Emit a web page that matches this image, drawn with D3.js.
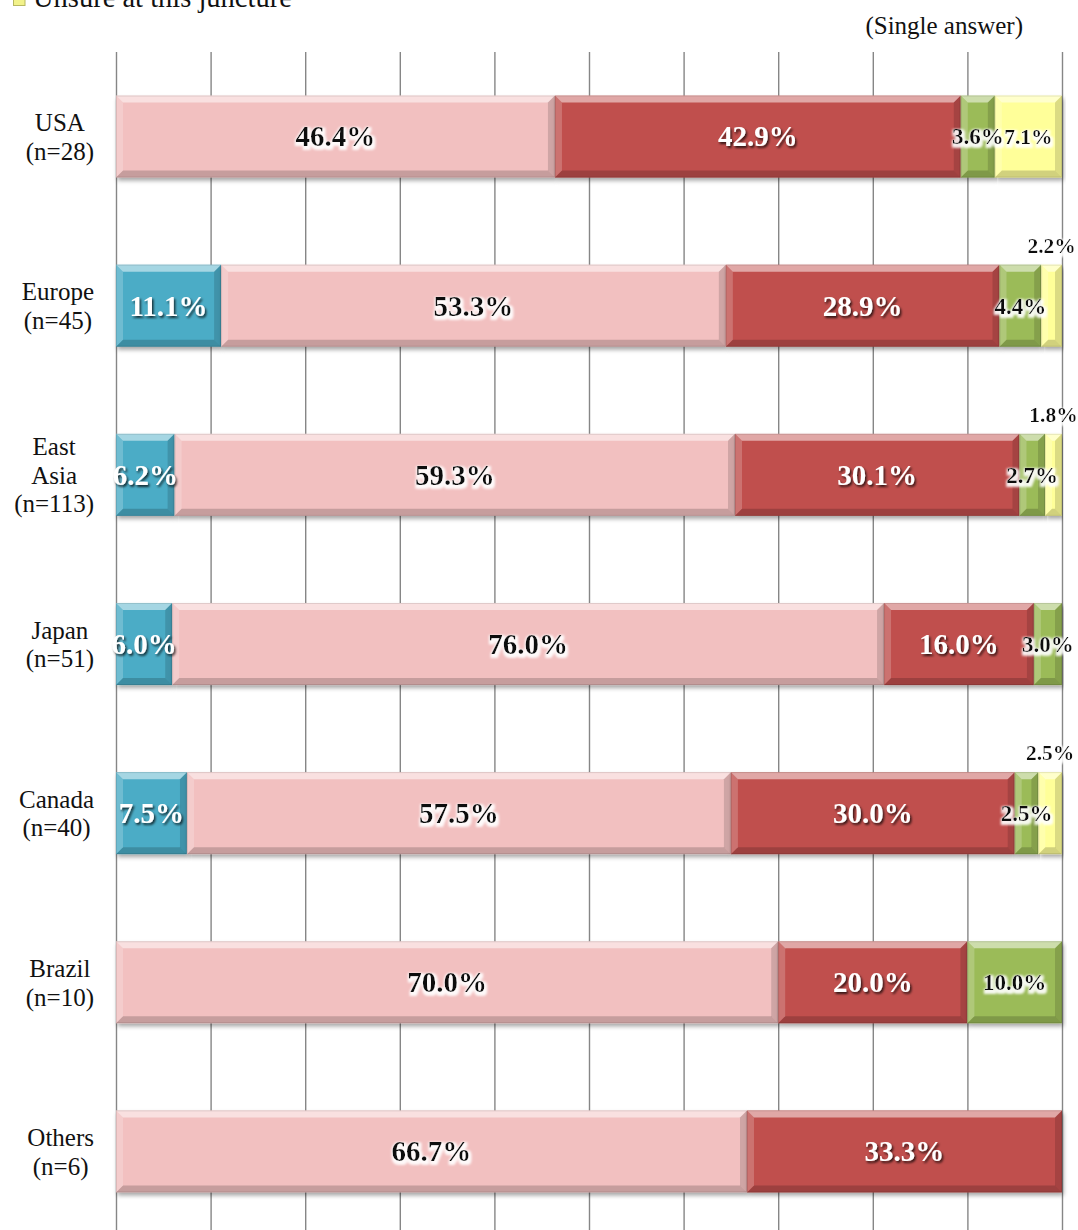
<!DOCTYPE html>
<html>
<head>
<meta charset="utf-8">
<script src="https://cdn.jsdelivr.net/npm/d3@7"></script>
<style>
  html, body { margin: 0; padding: 0; background: #fff; }
  svg { display: block; }
</style>
</head>
<body>
<svg id="chart" width="1078" height="1230"></svg>
<script>
// Regions surveyed (each label line is drawn on its own row)
const categories = ["USA", "Europe", "East Asia", "Japan", "Canada", "Brazil", "Others"];
const categoryLines = [
  ["USA", "(n=28)"],
  ["Europe", "(n=45)"],
  ["East", "Asia", "(n=113)"],
  ["Japan", "(n=51)"],
  ["Canada", "(n=40)"],
  ["Brazil", "(n=10)"],
  ["Others", "(n=6)"]
];

// Answer shares (%) per region, one array per answer option, in stacking order
const answer1 = [0, 11.1, 6.2, 6.0, 7.5, 0, 0];
const answer2 = [46.4, 53.3, 59.3, 76.0, 57.5, 70.0, 66.7];
const answer3 = [42.9, 28.9, 30.1, 16.0, 30.0, 20.0, 33.3];
const answer4 = [3.6, 4.4, 2.7, 3.0, 2.5, 10.0, 0];
const unsure  = [7.1, 2.2, 1.8, 0, 2.5, 0, 0];

const seriesValues = [answer1, answer2, answer3, answer4, unsure];
const seriesColors = ["#4bacc6", "#f2c0c0", "#c0504d", "#9bbb59", "#ffff99"];
const legendLabel = "Unsure at this juncture";
const noteLabel = "(Single answer)";
const gridTicks = [0, 0.1, 0.2, 0.3, 0.4, 0.5, 0.6, 0.7, 0.8, 0.9, 1.0];

const svg = d3.select("#chart");
const serif = "'Liberation Serif', 'Times New Roman', serif";

const plot = { left: 116, right: 1062, top: 52, bottom: 1236 };

const x = d3.scaleLinear().domain([0, 1]).range([plot.left, plot.right]);
const y = d3.scaleBand().domain(categories).range([plot.top, plot.bottom])
  .paddingInner(0.515).paddingOuter(0.2575);

// Filters: bar shadow, dark text shadow, white glow
const defs = svg.append("defs");
const fBar = defs.append("filter").attr("id", "barShadow")
  .attr("x", "-5%").attr("y", "-20%").attr("width", "110%").attr("height", "150%");
fBar.append("feDropShadow").attr("dx", 1.5).attr("dy", 3).attr("stdDeviation", 2.2)
  .attr("flood-color", "#000").attr("flood-opacity", 0.35);

const fDark = defs.append("filter").attr("id", "darkText")
  .attr("x", "-20%").attr("y", "-40%").attr("width", "140%").attr("height", "180%");
fDark.append("feDropShadow").attr("dx", 1.5).attr("dy", 2).attr("stdDeviation", 0.9)
  .attr("flood-color", "#000").attr("flood-opacity", 0.75);

const fGlow = defs.append("filter").attr("id", "glowText")
  .attr("x", "-20%").attr("y", "-40%").attr("width", "140%").attr("height", "180%");
fGlow.append("feMorphology").attr("in", "SourceAlpha").attr("operator", "dilate").attr("radius", 1.6).attr("result", "d");
fGlow.append("feOffset").attr("in", "d").attr("dx", 1).attr("dy", 1.5).attr("result", "o");
fGlow.append("feGaussianBlur").attr("in", "o").attr("stdDeviation", 1.2).attr("result", "b");
fGlow.append("feFlood").attr("flood-color", "#fff").attr("flood-opacity", 0.9).attr("result", "w");
fGlow.append("feComposite").attr("in", "w").attr("in2", "b").attr("operator", "in").attr("result", "g");
const gm = fGlow.append("feMerge");
gm.append("feMergeNode").attr("in", "g");
gm.append("feMergeNode").attr("in", "SourceGraphic");

// Vertical gridlines from the percentage axis
const gridAxis = d3.axisBottom(x).tickValues(gridTicks).tickSize(-(plot.bottom - plot.top)).tickFormat("");
const grid = svg.append("g").attr("transform", `translate(0,${plot.bottom})`).call(gridAxis);
grid.select(".domain").remove();
grid.selectAll(".tick line").attr("stroke", "#868686").attr("stroke-width", 1.4);

// Stack rows, normalised to 100%
const rows = categories.map((c, i) => {
  const vals = seriesValues.map(s => s[i]);
  const total = d3.sum(vals);
  let cum = 0;
  return vals.map((v, k) => {
    const seg = { cat: c, k, v, x0: cum / total, x1: (cum + v) / total };
    cum += v;
    return seg;
  });
});
const segments = rows.flat().filter(d => d.v > 0);

const bw = y.bandwidth();
const bev = 7;

const bars = svg.append("g");
const segG = bars.selectAll("g.seg").data(segments).join("g").attr("class", "seg");

segG.each(function(d) {
  const g = d3.select(this);
  const x0 = x(d.x0), x1 = x(d.x1), y0 = y(d.cat), y1 = y0 + bw;
  const b = Math.min(bev, (x1 - x0) / 2);
  g.append("rect").attr("x", x0).attr("y", y0).attr("width", x1 - x0).attr("height", bw)
    .attr("fill", seriesColors[d.k]).attr("filter", "url(#barShadow)");
  // bevel facets
  const facets = [
    { p: [[x0, y0], [x1, y0], [x1 - b, y0 + b], [x0 + b, y0 + b]], c: "#fff", o: 0.5 },
    { p: [[x0, y0], [x0 + b, y0 + b], [x0 + b, y1 - b], [x0, y1]], c: "#fff", o: 0.2 },
    { p: [[x0, y1], [x0 + b, y1 - b], [x1 - b, y1 - b], [x1, y1]], c: "#000", o: 0.18 },
    { p: [[x1, y0], [x1, y1], [x1 - b, y1 - b], [x1 - b, y0 + b]], c: "#000", o: 0.14 }
  ];
  facets.forEach(f => {
    g.append("polygon").attr("points", f.p.map(q => q.join(",")).join(" "))
      .attr("fill", f.c).attr("fill-opacity", f.o);
  });
  g.append("rect").attr("x", x0 + 0.5).attr("y", y0 + 0.5).attr("width", x1 - x0 - 1).attr("height", bw - 1)
    .attr("fill", "none").attr("stroke", "#000").attr("stroke-opacity", 0.1);
});

// Data labels
const fontSizes = [29, 29, 29, 23, 21.5];
const labels = svg.append("g").attr("font-family", serif).attr("font-weight", "bold");
segments.forEach(d => {
  const cx = x((d.x0 + d.x1) / 2);
  const above = d.k === 4 && d.v < 5;
  const cy = y(d.cat) + bw / 2;
  const light = d.k === 0 || d.k === 2;
  labels.append("text")
    .attr("x", cx)
    .attr("y", above ? y(d.cat) - 12 : cy + fontSizes[d.k] * 0.34)
    .attr("text-anchor", "middle")
    .attr("font-size", fontSizes[d.k])
    .attr("fill", light ? "#fff" : "#111")
    .attr("filter", light ? "url(#darkText)" : "url(#glowText)")
    .text(d.v.toFixed(1) + "%");
});

// Category labels: lines centred within a block that is right-aligned to the axis
const catG = svg.append("g").attr("font-family", serif).attr("font-size", 25).attr("fill", "#111");
const lineGap = 28.5;
categories.forEach((c, i) => {
  const lines = categoryLines[i];
  const cy = y(c) + bw / 2;
  const texts = lines.map((t, j) => catG.append("text")
    .attr("y", cy + 9 + (j - (lines.length - 1) / 2) * lineGap)
    .attr("text-anchor", "middle").text(t));
  const maxW = d3.max(texts, t => t.node().getComputedTextLength());
  texts.forEach(t => t.attr("x", 94 - maxW / 2));
});

// Legend entry (top-left, its upper part runs past the top edge) and note
const leg = svg.append("g");
leg.append("rect").attr("x", 13.5).attr("y", -6).attr("width", 11.5).attr("height", 11.5)
  .attr("fill", "#f2f28a").attr("stroke", "#b8b860").attr("stroke-width", 1);
leg.append("text").attr("x", 33).attr("y", 7).attr("font-family", serif).attr("font-size", 28.5)
  .attr("fill", "#111").text(legendLabel);

svg.append("text").attr("x", 1023).attr("y", 34).attr("text-anchor", "end")
  .attr("font-family", serif).attr("font-size", 25).attr("fill", "#111").text(noteLabel);
</script>
</body>
</html>
